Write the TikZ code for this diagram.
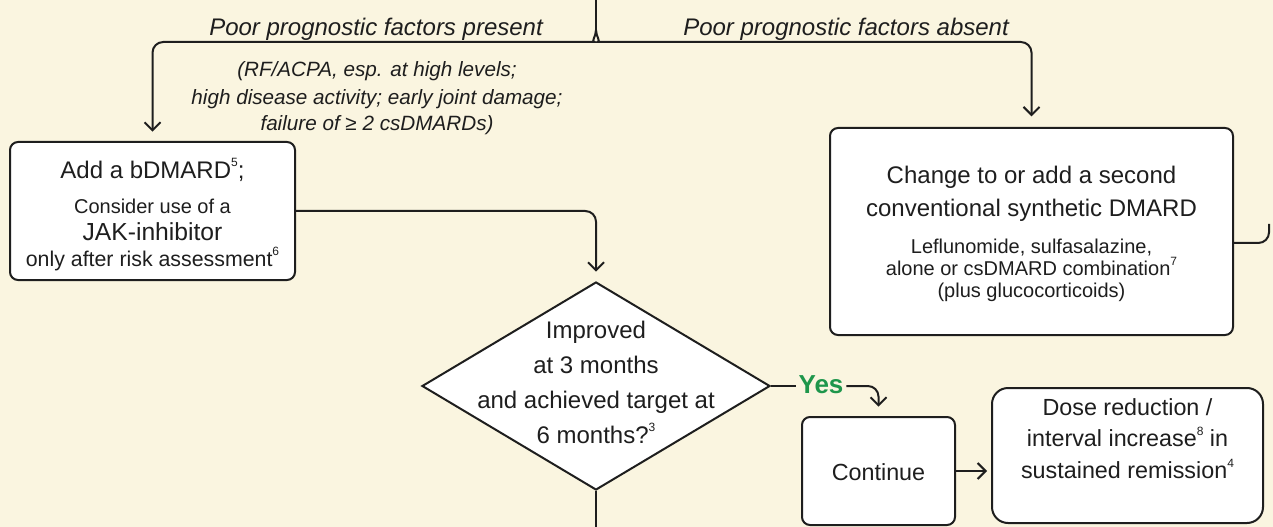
\documentclass[tikz,border=0pt]{standalone}
\usepackage{fontspec}
\setmainfont{Liberation Sans}
\usetikzlibrary{arrows.meta,shapes.geometric}
\definecolor{bg}{RGB}{250,245,224}
\definecolor{ink}{RGB}{30,30,30}
\definecolor{yesgreen}{RGB}{30,150,75}
\newcommand{\fs}[1]{\fontsize{#1}{#1}\selectfont}
\newcommand{\fnm}[1]{\raisebox{0.5em}{\fontsize{9}{9}\selectfont #1}}
\begin{document}
\begin{tikzpicture}[x=0.75pt,y=-0.75pt,
  box/.style={draw=ink, line width=1.5pt, fill=white, rounded corners=6pt, inner sep=0pt},
  conn/.style={draw=ink, line width=1.5pt, rounded corners=8pt},
  arr/.style={-{Straight Barb[length=6pt,width=12pt,line width=1.5pt]}},
  txt/.style={text=ink, inner sep=0pt, text height=0.75em, text depth=0.15em, yshift=-3.5pt},
  big/.style={txt, font=\fs{18}},
  small/.style={txt, font=\fs{15}},
  ital/.style={txt, font=\itshape\fs{18}},
  itals/.style={txt, font=\itshape\fs{15.5}}]
\fill[bg] (0,0) rectangle (1273,527);
\useasboundingbox (0,0) rectangle (1273,527);

% boxes
\node[box, minimum width=213.75pt, minimum height=103.5pt] (lbox) at (152.5,211) {};
\node[box, minimum width=302.25pt, minimum height=155.25pt] (rbox) at (1031.5,231.5) {};
\node[box, minimum width=114.75pt, minimum height=81pt] (cont) at (878.5,471) {};
\node[box, rounded corners=12pt, minimum width=203.25pt, minimum height=101.25pt] (dose) at (1127.5,455.5) {};
\node[diamond, draw=ink, line width=1.5pt, fill=white, inner sep=0pt, minimum width=261pt, minimum height=156pt] (dia) at (596,386) {};

% coordinates
\coordinate (top) at (596,0);
\coordinate (split) at (596,30);
\coordinate (bot) at (596,527);
\coordinate (rx) at (1269,224);

% headings
\node[ital] (hp) at (376,27) {Poor prognostic factors present};
\node[ital] (ha) at (846,27) {Poor prognostic factors absent};
\node[itals] (s1) at (377,68) {(RF/ACPA, esp. at high levels;};
\node[itals] (s2) at (377,96) {high disease activity; early joint damage;};
\node[itals] (s3) at (377,122) {failure of ≥ 2 csDMARDs)};

% left box text
\node[big] (l1) at (152.5,170) {Add a bDMARD\fnm{5};};
\node[small] (l2) at (152.5,205) {Consider use of a};
\node[txt, font=\fs{18.5}] (l3) at (152.5,232) {JAK-inhibitor};
\node[txt, font=\fs{16}] (l4) at (152.5,258) {only after risk assessment\fnm{6}};

% right box text
\node[big] (r1) at (1031.5,175) {Change to or add a second};
\node[big] (r2) at (1031.5,208) {conventional synthetic DMARD};
\node[small] (r3) at (1031.5,245) {Leflunomide, sulfasalazine,};
\node[small] (r4) at (1031.5,267) {alone or csDMARD combination\fnm{7}};
\node[small] (r5) at (1031.5,289) {(plus glucocorticoids)};

% diamond text
\node[big] (d1) at (596,330) {Improved};
\node[big] (d2) at (596,365) {at 3 months};
\node[big] (d3) at (596,400) {and achieved target at};
\node[big] (d4) at (596,435) {6 months?\fnm{3}};

% yes
\node[txt, font=\bfseries\fs{19.5}, text=yesgreen, inner sep=2pt] (yes) at (821,385) {Yes};

% continue / dose text
\node[txt, font=\fs{17.5}] (c1) at (878.5,472) {Continue};
\node[txt, font=\fs{17.5}] (o1) at (1127.5,407) {Dose reduction /};
\node[txt, font=\fs{17.5}] (o2) at (1127.5,438) {interval increase\fnm{8} in};
\node[txt, font=\fs{17.5}] (o3) at (1127.5,470) {sustained remission\fnm{4}};

% connectors
\draw[conn] (top) -- (split);
\draw[conn, arr, shorten >=7pt] (split) to[out=-90,in=0] ++(-12,12) -| (lbox.north);
\draw[conn, arr, shorten >=8pt] (split) to[out=-90,in=180] ++(12,12) -| (rbox.north);
\draw[conn, arr, shorten >=7pt] (lbox.east) -| (dia.north);
\draw[conn] (dia.east) -- (dia.east -| yes.west);
\draw[conn, arr, shorten >=7pt] (yes.east |- dia.east) -| (cont.north);
\draw[conn, arr, shorten >=3pt] (cont.east) -- (cont.east -| dose.west);
\draw[conn] (dia.south) -- (bot);
\draw[conn] (rbox.east |- 0,243) -| (rx);
\end{tikzpicture}
\end{document}
